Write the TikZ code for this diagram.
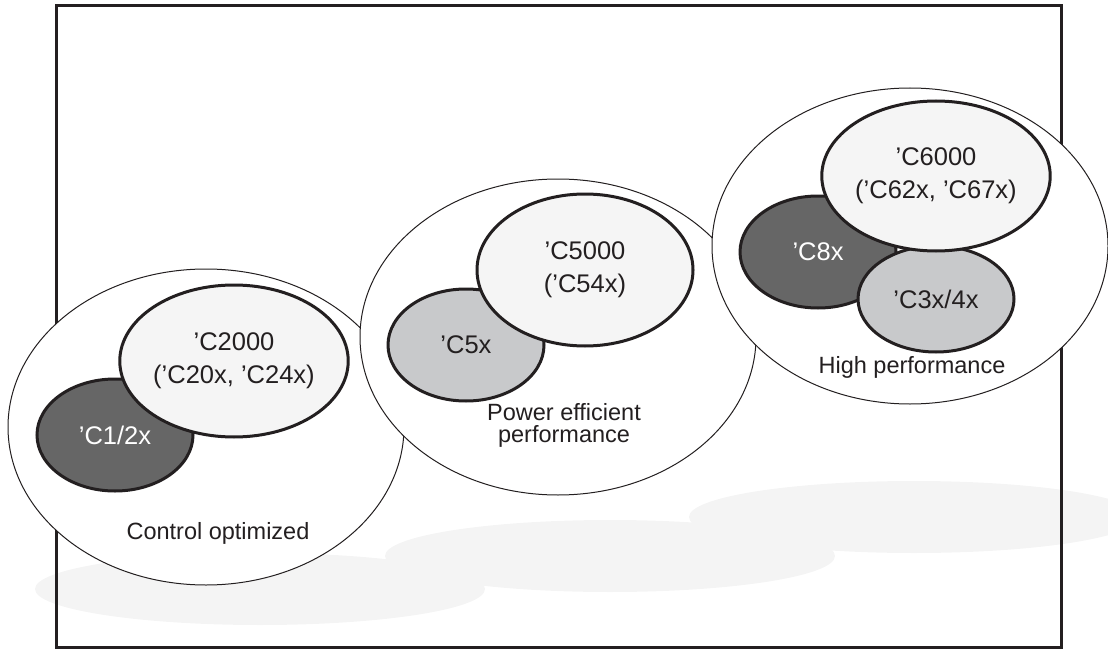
\documentclass[tikz,border=0pt]{standalone}
\usepackage{fontspec}
\setmainfont{Liberation Sans}
\usetikzlibrary{shapes.geometric}
\definecolor{shadowgray}{HTML}{F4F4F4}
\definecolor{lightfill}{HTML}{F5F5F5}
\definecolor{midfill}{HTML}{C8C9CB}
\definecolor{darkfill}{HTML}{666666}
\definecolor{ink}{HTML}{231F20}
\tikzset{
  shadowblob/.style={ellipse, fill=shadowgray, draw=none, inner sep=0pt, minimum width=450pt, minimum height=72pt},
  family/.style={ellipse, fill=white, draw=ink, line width=1pt, inner sep=0pt, minimum width=396pt, minimum height=316pt},
  bigchip/.style={ellipse, fill=lightfill, draw=ink, line width=3pt, inner sep=0pt, minimum width=216pt, minimum height=152pt,
     text=ink, align=center, font=\fontsize{25.5}{33}\selectfont},
  smallchip/.style={ellipse, draw=ink, line width=3pt, inner sep=0pt, minimum width=156pt, minimum height=112pt,
     text=ink, align=center, font=\fontsize{25.5}{33}\selectfont},
  darkchip/.style={smallchip, fill=darkfill, text=white},
  graychip/.style={smallchip, fill=midfill},
  famlabel/.style={text=ink, align=center, font=\fontsize{23.5}{22}\selectfont, inner sep=0pt}
}
\begin{document}
\begin{tikzpicture}[x=1pt,y=-1pt]
\useasboundingbox (0,0) rectangle (1108,650);
\begin{scope}
\clip (0,0) rectangle (1108,650);
% shadows
\node[shadowblob] (sh1) at (260,589) {};
\node[shadowblob] (sh2) at (610,556) {};
\node[shadowblob] (sh3) at (914,517) {};
% frame
\node[draw=ink, line width=3pt, inner sep=0pt, minimum width=1005pt, minimum height=641pt] (frame) at (558.5,326.5) {};
% family ellipses
\node[family] (fam1) at (206,427) {};
\node[family] (fam2) at (558,337) {};
\node[family] (fam3) at (910,246) {};
% left group
\node[darkchip] (c12) at (115,435) {’C1/2x};
\node[bigchip] (c2000) at (234,361) {’C2000\\(’C20x, ’C24x)};
\node[famlabel] (lab1) at (218,533) {Control optimized};
% middle group
\node[graychip] (c5x) at (466,345) {’C5x};
\node[bigchip] (c5000) at (585,270) {’C5000\\(’C54x)};
\node[famlabel] (lab2) at (564,425) {Power efficient\\performance};
% right group
\node[darkchip] (c8x) at (818,252) {’C8x};
\node[graychip, minimum height=106pt] (c34x) at (936,299) {’C3x/4x};
\node[bigchip, minimum height=150pt] (c6000) at (936,176) {’C6000\\(’C62x, ’C67x)};
\node[famlabel] (lab3) at (912,367) {High performance};
\end{scope}
\end{tikzpicture}
\end{document}
